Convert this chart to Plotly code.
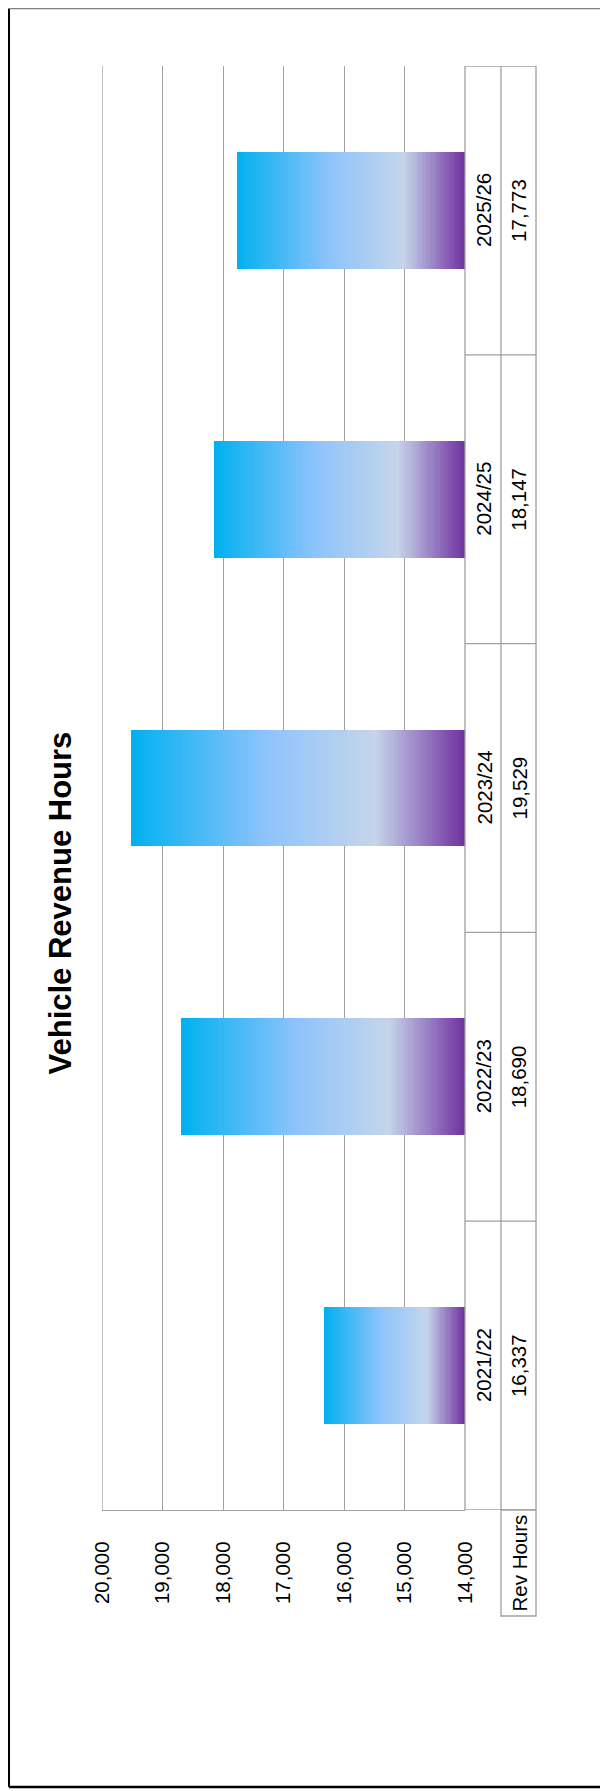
import plotly.graph_objects as go

# ---- data ----
categories = ["2021/22", "2022/23", "2023/24", "2024/25", "2025/26"]
rev_hours = [16337, 18690, 19529, 18147, 17773]
tick_values = [14000, 15000, 16000, 17000, 18000, 19000, 20000]
title_text = "Vehicle Revenue Hours"
series_name = "Rev Hours"

# ---- geometry (figure pixels; page adds an 8px body margin) ----
W, H = 608, 1791
OFF = 8
L, R, T, B = 102 - OFF, 465 - OFF, 66 - OFF, 1510 - OFF
C1, C2 = 501 - OFF, 536 - OFF          # data-table column edges
KEY_BOTTOM = 1616 - OFF


def px(p):
    return (p - L) / (R - L)


def py(p):
    return (B - p) / (B - T)


BASE = 14000
FONT = "Liberation Sans"
GRID = "#A0A0A0"

# gradient stops: fraction from bar base -> colour
stops = [(0.0, (0x70, 0x30, 0xA0)), (0.27, (0xC5, 0xD5, 0xEA)),
         (0.60, (0x8C, 0xC3, 0xFC)), (1.0, (0x00, 0xB0, 0xF0))]


def grad_color(t):
    for (t0, c0), (t1, c1) in zip(stops[:-1], stops[1:]):
        if t <= t1:
            f = (t - t0) / (t1 - t0)
            c = [round(a + (b - a) * f) for a, b in zip(c0, c1)]
            return "rgb(%d,%d,%d)" % tuple(c)
    return "rgb(%d,%d,%d)" % stops[-1][1]


fig = go.Figure()
N = 120
for k in range(N, 0, -1):
    t = k / N
    fig.add_trace(go.Bar(
        y=categories,
        x=[(v - BASE) * t for v in rev_hours],
        base=BASE,
        orientation="h",
        width=0.405,
        marker=dict(color=grad_color(t - 0.5 / N), line=dict(width=0)),
        hoverinfo="skip",
        showlegend=False,
    ))

shapes = []
line_style = dict(color=GRID, width=1.3)
# edge gridline at the top of the value range
shapes.append(dict(type="line", xref="x", yref="paper",
                   x0=tick_values[-1], x1=tick_values[-1], y0=0, y1=1,
                   line=line_style, layer="below"))
# data table verticals
for xp in (R, C1, C2):
    shapes.append(dict(type="line", xref="paper", yref="paper",
                       x0=px(xp), x1=px(xp), y0=py(T), y1=py(B), line=line_style))
# category boundaries in table
for i in range(len(categories) + 1):
    shapes.append(dict(type="line", xref="paper", yref="y",
                       x0=px(R), x1=px(C2), y0=i - 0.5, y1=i - 0.5, line=line_style))
# legend key cell ("Rev Hours")
shapes.append(dict(type="rect", xref="paper", yref="paper",
                   x0=px(C1), x1=px(C2), y0=py(KEY_BOTTOM), y1=py(B), line=line_style))
# outer chart border
shapes.append(dict(type="line", xref="paper", yref="paper",
                   x0=px(1), x1=px(1), y0=py(0.6), y1=py(1787 - OFF),
                   line=dict(color="black", width=2)))
shapes.append(dict(type="line", xref="paper", yref="paper",
                   x0=px(1), x1=px(W + 10), y0=py(1787 - OFF), y1=py(1787 - OFF),
                   line=dict(color="black", width=2.5)))
shapes.append(dict(type="line", xref="paper", yref="paper",
                   x0=px(1), x1=px(W + 10), y0=py(0.6), y1=py(0.6),
                   line=dict(color="#7F7F7F", width=1.2)))

annotations = []
for cat, v in zip(categories, rev_hours):
    annotations.append(dict(x=px((R + C1) / 2 + 0.5), xref="paper", y=cat, yref="y",
                            text=cat, textangle=-90, showarrow=False,
                            xanchor="center", yanchor="middle",
                            font=dict(family=FONT, size=20.5, color="black")))
    annotations.append(dict(x=px((C1 + C2) / 2), xref="paper", y=cat, yref="y",
                            text=f"{v:,}", textangle=-90, showarrow=False,
                            xanchor="center", yanchor="middle",
                            font=dict(family=FONT, size=20.5, color="black")))
annotations.append(dict(x=px((C1 + C2) / 2), xref="paper", y=py(1563 - OFF), yref="paper",
                        text=series_name, textangle=-90, showarrow=False,
                        xanchor="center", yanchor="middle",
                        font=dict(family=FONT, size=20.5, color="black")))
annotations.append(dict(x=px(60 - OFF), xref="paper", y=py(903.5 - OFF), yref="paper",
                        text="<b>" + title_text + "</b>", textangle=-90, showarrow=False,
                        xanchor="center", yanchor="middle",
                        font=dict(family=FONT, size=31, color="black")))

fig.update_layout(
    width=W, height=H,
    margin=dict(l=L, r=W - R, t=T, b=H - B, pad=0),
    paper_bgcolor="white", plot_bgcolor="white",
    barmode="overlay", bargap=0,
    showlegend=False,
    shapes=shapes, annotations=annotations,
    font=dict(family=FONT, size=20.5, color="black"),
)
fig.update_xaxes(
    range=[20000, 14000], tickvals=tick_values, tickformat=",",
    tickangle=-90, ticks="", ticklabelstandoff=22,
    showgrid=True, gridcolor=GRID, gridwidth=1.3,
    showline=True, linecolor=GRID, linewidth=1.3,
    zeroline=False, side="bottom",
    tickfont=dict(family=FONT, size=20.5, color="black"),
)
fig.update_yaxes(
    range=[-0.5, len(categories) - 0.5], showticklabels=False,
    showgrid=False, zeroline=False, showline=False, ticks="",
)

fig.write_html("out.html")
